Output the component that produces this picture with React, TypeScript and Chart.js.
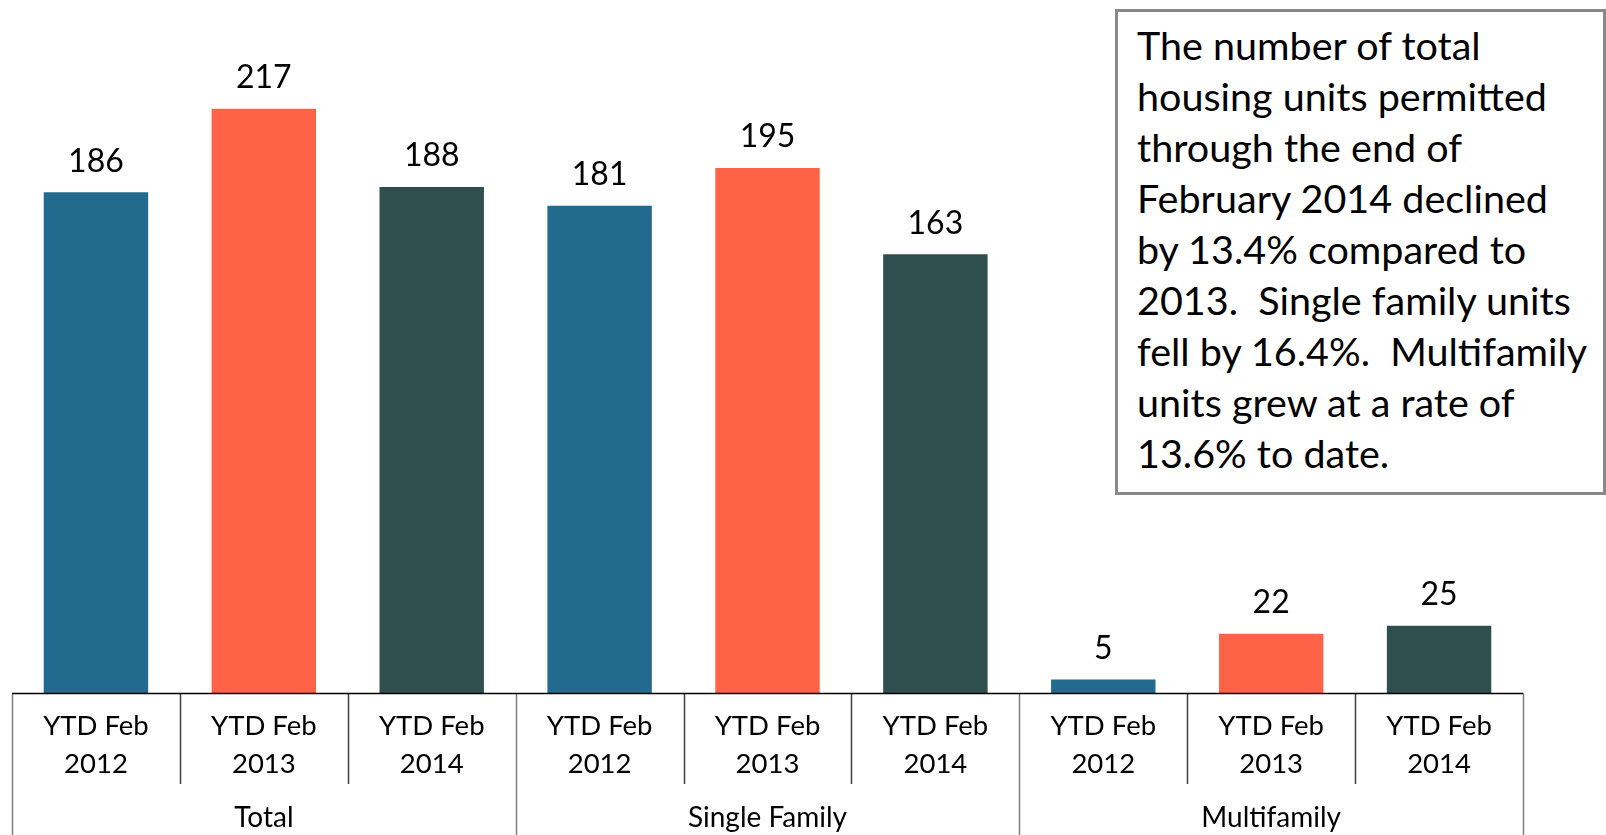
import React, { useEffect, useRef } from "react";
import { Chart, registerables } from "chart.js";

Chart.register(...registerables);

const years = ["2012", "2013", "2014"];
const groups = ["Total", "Single Family", "Multifamily"];
const values = [186, 217, 188, 181, 195, 163, 5, 22, 25];
const barColors = ["#236B8E", "#FF6347", "#2F4F4F"];
const noteLines = [
  "The number of total",
  "housing units permitted",
  "through the end of",
  "February 2014 declined",
  "by 13.4% compared to",
  "2013.  Single family units",
  "fell by 16.4%.  Multifamily",
  "units grew at a rate of",
  "13.6% to date.",
];

const FONT = "Lato, 'Open Sans', sans-serif";

const labels = groups.flatMap(() => years.map((y) => ["YTD Feb", y]));
const colors = groups.flatMap(() => barColors);

const overlayPlugin = {
  id: "overlay",
  afterDraw(chart: any) {
    const ctx = chart.ctx;
    const area = chart.chartArea;
    const x = chart.scales.x;
    const n = labels.length;
    const step = (area.right - area.left) / n;
    const bottom = area.bottom;
    ctx.save();
    // data labels
    const meta = chart.getDatasetMeta(0);
    ctx.fillStyle = "#000";
    ctx.font = `32px ${FONT}`;
    ctx.textAlign = "center";
    ctx.textBaseline = "middle";
    meta.data.forEach((bar: any, i: number) => {
      ctx.fillText(String(values[i]), bar.x, bar.y - 31);
    });
    // separators
    for (let i = 0; i <= n; i++) {
      const px = Math.round(area.left + i * step) + 0.5;
      const isGroup = i % 3 === 0;
      ctx.beginPath();
      ctx.strokeStyle = isGroup ? "#7f7f7f" : "#404040";
      ctx.lineWidth = 1.5;
      ctx.moveTo(px, bottom);
      ctx.lineTo(px, isGroup ? chart.height : bottom + 91);
      ctx.stroke();
    }
    // baseline
    ctx.beginPath();
    ctx.strokeStyle = "#000";
    ctx.lineWidth = 1.5;
    ctx.moveTo(area.left, bottom + 0.5);
    ctx.lineTo(area.right, bottom + 0.5);
    ctx.stroke();
    // group labels
    ctx.font = `28px ${FONT}`;
    ctx.fillStyle = "#000";
    groups.forEach((g, gi) => {
      const cx = x.getPixelForValue(gi * 3 + 1);
      ctx.fillText(g, cx, bottom + 125);
    });
    ctx.restore();
  },
};

export default function App() {
  const ref = useRef<HTMLCanvasElement>(null);
  useEffect(() => {
    const chart = new Chart(ref.current as HTMLCanvasElement, {
      type: "bar",
      data: {
        labels,
        datasets: [
          {
            data: values,
            backgroundColor: colors,
            barPercentage: 0.622,
            categoryPercentage: 1,
          },
        ],
      },
      options: {
        animation: false,
        responsive: true,
        maintainAspectRatio: false,
        layout: { padding: { left: 12, right: 83, top: 20, bottom: 0 } },
        plugins: { legend: { display: false }, tooltip: { enabled: false } },
        scales: {
          x: {
            grid: { display: false, drawTicks: false },
            border: { display: false },
            ticks: {
              color: "#000",
              font: { family: FONT, size: 27.5, lineHeight: 38 / 27.5 },
              padding: 14,
              maxRotation: 0,
              autoSkip: false,
            },
            afterFit(scale: any) {
              scale.height = 142;
            },
          },
          y: { display: false, min: 0, max: 250 },
        },
      },
      plugins: [overlayPlugin],
    });
    return () => chart.destroy();
  }, []);

  return (
    <div style={{ position: "absolute", left: 0, top: 0, width: 1606, height: 835, background: "#fff" }}>
      <canvas ref={ref} />
      <div
        style={{
          position: "absolute",
          left: 1115,
          top: 9,
          width: 491,
          height: 486,
          boxSizing: "border-box",
          border: "3px solid #898989",
          background: "#fff",
          paddingLeft: 19,
          paddingTop: 7,
          fontFamily: FONT,
          fontSize: 39.5,
          lineHeight: "51px",
          color: "#000",
          whiteSpace: "pre",
          overflow: "hidden",
        }}
      >
        {noteLines.map((l, i) => (
          <div key={i}>{l}</div>
        ))}
      </div>
    </div>
  );
}
